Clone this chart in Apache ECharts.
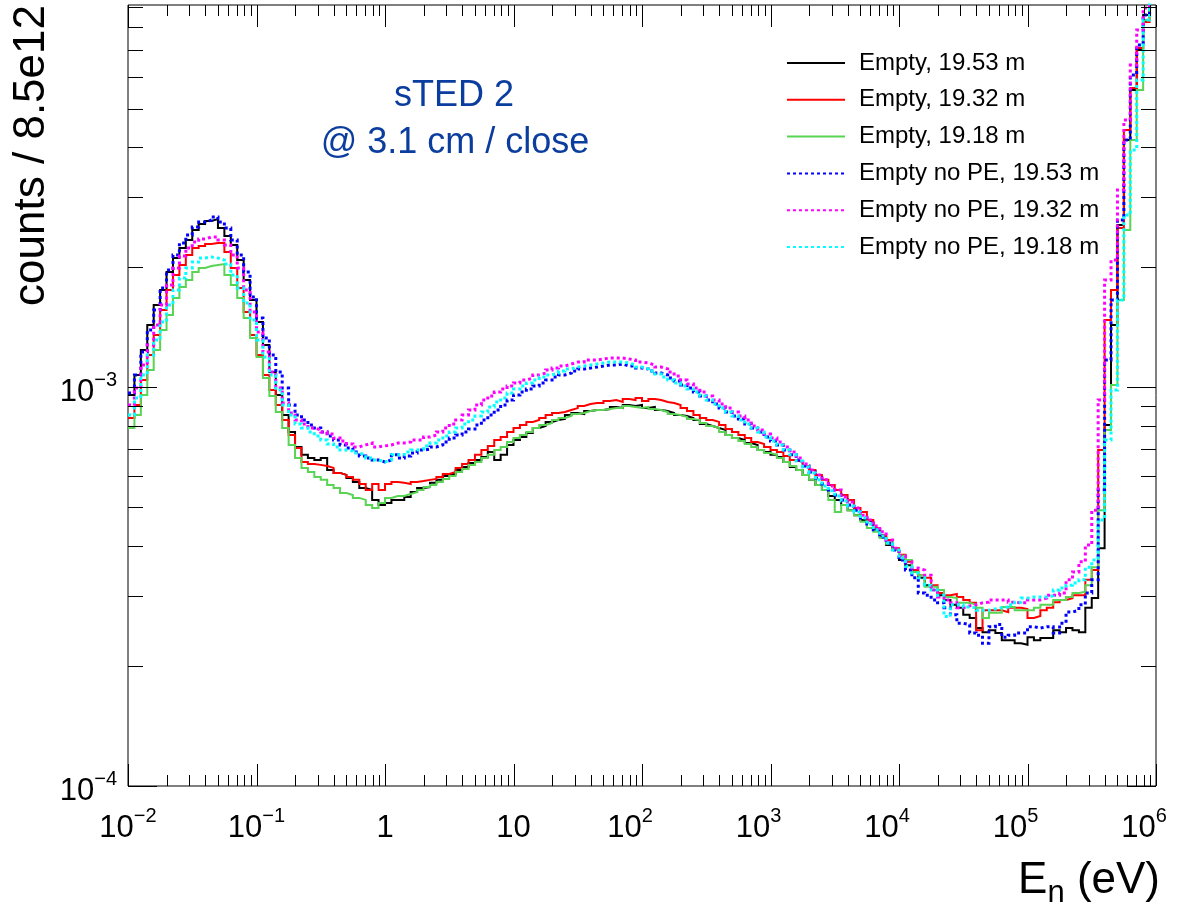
<!DOCTYPE html>
<html>
<head>
<meta charset="utf-8">
<script src="https://cdn.jsdelivr.net/npm/echarts@6/dist/echarts.min.js"></script>
<style>
html,body{margin:0;padding:0;background:#ffffff;}
#chart{width:1190px;height:916px;}
</style>
</head>
<body>
<div id="chart"></div>
<script>
// ---------------- data ----------------
// histogram values are given in units of 1e-3 (counts / 8.5e12)
const VALUE_UNIT = 1e-3;
// log-spaced binning: 20 bins per decade from 1e-2 eV to 1e6 eV
const E_MIN = 1e-2;
const BINS_PER_DECADE = 20;
const N_BINS = 160;

const X_MIN = 1e-2, X_MAX = 1e6;
const Y_MIN = 1e-4, Y_MAX = 9.1e-3;

const seriesNames = ['Empty, 19.53 m', 'Empty, 19.32 m', 'Empty, 19.18 m',
  'Empty no PE, 19.53 m', 'Empty no PE, 19.32 m', 'Empty no PE, 19.18 m'];

const empty1953 = [
0.957,1.074,1.240,1.433,1.609,1.754,1.946,2.110,2.235,2.341,
2.480,2.568,2.613,2.643,2.509,2.396,2.275,2.086,1.858,1.656,
1.458,1.277,1.092,0.957,0.852,0.773,0.709,0.677,0.665,0.657,
0.665,0.620,0.610,0.603,0.592,0.579,0.559,0.553,0.522,0.507,
0.513,0.522,0.522,0.531,0.546,0.559,0.562,0.576,0.586,0.599,
0.606,0.620,0.631,0.646,0.657,0.669,0.688,0.657,0.677,0.717,
0.738,0.751,0.768,0.791,0.800,0.819,0.828,0.833,0.852,0.862,
0.857,0.872,0.877,0.877,0.882,0.893,0.887,0.903,0.898,0.903,
0.887,0.893,0.877,0.872,0.862,0.852,0.847,0.838,0.828,0.809,
0.800,0.791,0.782,0.759,0.746,0.738,0.725,0.717,0.696,0.688,
0.677,0.669,0.650,0.631,0.620,0.603,0.586,0.569,0.553,0.534,
0.522,0.507,0.492,0.478,0.465,0.460,0.439,0.421,0.402,0.391,
0.369,0.358,0.344,0.333,0.319,0.310,0.301,0.293,0.285,0.280,
0.269,0.264,0.249,0.243,0.246,0.242,0.232,0.232,0.228,0.226,
0.236,0.232,0.235,0.235,0.246,0.243,0.249,0.246,0.243,0.280,
0.296,0.395,0.805,1.433,2.553,4.172,5.568,7.015,8.587,10.5];

const empty1932 = [
0.838,0.903,1.043,1.205,1.353,1.563,1.754,1.913,2.027,2.147,
2.235,2.261,2.288,2.301,2.301,2.185,1.992,1.774,1.545,1.353,
1.205,1.074,0.985,0.903,0.828,0.759,0.704,0.650,0.642,0.639,
0.635,0.628,0.610,0.603,0.596,0.586,0.572,0.553,0.572,0.553,
0.572,0.579,0.576,0.572,0.579,0.582,0.586,0.589,0.596,0.606,
0.613,0.628,0.642,0.657,0.677,0.696,0.713,0.738,0.751,0.773,
0.791,0.805,0.819,0.828,0.838,0.852,0.862,0.867,0.877,0.887,
0.898,0.908,0.913,0.913,0.924,0.929,0.919,0.935,0.929,0.940,
0.924,0.935,0.929,0.919,0.913,0.903,0.887,0.872,0.852,0.838,
0.828,0.819,0.805,0.786,0.773,0.759,0.746,0.729,0.721,0.709,
0.696,0.688,0.673,0.657,0.650,0.635,0.620,0.603,0.586,0.569,
0.553,0.537,0.522,0.498,0.487,0.465,0.444,0.426,0.414,0.395,
0.380,0.365,0.348,0.338,0.333,0.319,0.305,0.301,0.303,0.298,
0.293,0.288,0.246,0.276,0.276,0.276,0.273,0.280,0.280,0.278,
0.264,0.267,0.276,0.280,0.289,0.293,0.296,0.301,0.301,0.329,
0.348,0.696,1.475,1.754,2.509,4.419,5.632,7.096,8.245,10.5];

const empty1918 = [
0.791,0.852,0.957,1.105,1.240,1.392,1.519,1.675,1.784,1.858,
1.946,1.992,2.015,2.027,2.038,1.913,1.805,1.675,1.493,1.329,
1.191,1.055,0.951,0.867,0.791,0.717,0.665,0.628,0.613,0.596,
0.586,0.569,0.559,0.543,0.537,0.528,0.522,0.507,0.498,0.513,
0.528,0.534,0.534,0.540,0.546,0.553,0.562,0.569,0.579,0.589,
0.599,0.613,0.624,0.639,0.650,0.665,0.677,0.696,0.709,0.729,
0.746,0.759,0.773,0.791,0.805,0.814,0.828,0.838,0.847,0.857,
0.862,0.872,0.877,0.877,0.882,0.887,0.887,0.898,0.893,0.887,
0.893,0.882,0.877,0.867,0.857,0.852,0.843,0.833,0.828,0.814,
0.800,0.791,0.773,0.759,0.746,0.733,0.721,0.709,0.696,0.684,
0.677,0.665,0.650,0.635,0.620,0.603,0.586,0.569,0.553,0.522,
0.487,0.507,0.492,0.478,0.460,0.444,0.434,0.419,0.405,0.391,
0.378,0.369,0.344,0.338,0.316,0.316,0.310,0.298,0.296,0.288,
0.288,0.285,0.280,0.264,0.272,0.272,0.281,0.281,0.276,0.276,
0.276,0.280,0.285,0.285,0.293,0.293,0.298,0.305,0.307,0.319,
0.354,0.492,0.782,1.014,1.656,2.480,4.172,5.568,8.341,10.5];

const noPE1953 = [
0.968,1.074,1.226,1.392,1.563,1.774,1.969,2.147,2.301,2.410,
2.524,2.598,2.628,2.674,2.598,2.509,2.341,2.147,1.946,1.685,
1.493,1.329,1.205,1.092,0.996,0.903,0.852,0.828,0.805,0.791,
0.773,0.755,0.738,0.717,0.704,0.688,0.673,0.665,0.657,0.650,
0.657,0.677,0.665,0.673,0.684,0.696,0.700,0.709,0.717,0.729,
0.746,0.759,0.773,0.786,0.805,0.828,0.852,0.877,0.903,0.929,
0.957,0.973,0.990,1.008,1.025,1.043,1.061,1.074,1.086,1.099,
1.112,1.118,1.124,1.131,1.138,1.138,1.144,1.131,1.131,1.118,
1.112,1.099,1.086,1.074,1.055,1.037,1.014,0.996,0.973,0.951,
0.929,0.908,0.887,0.867,0.847,0.833,0.809,0.791,0.773,0.751,
0.733,0.717,0.696,0.677,0.657,0.635,0.613,0.592,0.572,0.553,
0.537,0.522,0.507,0.492,0.470,0.454,0.439,0.421,0.407,0.391,
0.369,0.348,0.333,0.305,0.301,0.293,0.288,0.280,0.269,0.256,
0.254,0.242,0.239,0.228,0.251,0.254,0.236,0.239,0.242,0.242,
0.251,0.249,0.251,0.251,0.242,0.256,0.273,0.276,0.285,0.305,
0.329,0.553,1.171,1.656,2.628,4.172,6.073,7.220,8.587,10.5];

const noPE1932 = [
0.903,0.996,1.138,1.277,1.433,1.609,1.805,1.992,2.135,2.235,
2.314,2.355,2.382,2.382,2.341,2.275,2.147,1.992,1.754,1.545,
1.376,1.226,1.092,0.996,0.913,0.862,0.828,0.809,0.791,0.782,
0.773,0.764,0.746,0.733,0.721,0.709,0.717,0.725,0.709,0.713,
0.717,0.725,0.725,0.729,0.738,0.738,0.751,0.759,0.773,0.791,
0.809,0.828,0.852,0.877,0.903,0.929,0.951,0.973,0.990,1.008,
1.025,1.043,1.055,1.074,1.086,1.105,1.118,1.131,1.144,1.157,
1.157,1.171,1.171,1.178,1.184,1.184,1.184,1.178,1.171,1.157,
1.151,1.138,1.124,1.112,1.092,1.068,1.043,1.019,0.996,0.973,
0.951,0.929,0.908,0.887,0.867,0.847,0.828,0.800,0.782,0.764,
0.746,0.729,0.709,0.688,0.665,0.642,0.620,0.603,0.586,0.566,
0.553,0.531,0.516,0.498,0.478,0.465,0.449,0.434,0.414,0.395,
0.378,0.365,0.352,0.348,0.338,0.310,0.298,0.293,0.288,0.280,
0.283,0.285,0.288,0.289,0.293,0.293,0.293,0.289,0.288,0.288,
0.293,0.293,0.296,0.301,0.301,0.305,0.329,0.344,0.365,0.402,
0.492,0.929,1.858,2.086,3.125,4.682,6.433,7.874,8.941,10.5];

const noPE1918 = [
0.852,0.940,1.074,1.205,1.314,1.458,1.609,1.754,1.880,1.992,
2.062,2.110,2.123,2.110,2.086,2.038,1.913,1.774,1.628,1.475,
1.314,1.191,1.074,0.985,0.903,0.852,0.809,0.791,0.773,0.755,
0.738,0.721,0.709,0.696,0.692,0.684,0.677,0.665,0.657,0.650,
0.657,0.677,0.677,0.688,0.696,0.700,0.713,0.725,0.738,0.755,
0.773,0.791,0.809,0.828,0.847,0.867,0.893,0.919,0.940,0.968,
0.990,1.008,1.025,1.043,1.061,1.074,1.086,1.099,1.112,1.124,
1.131,1.138,1.144,1.151,1.157,1.157,1.157,1.151,1.138,1.124,
1.112,1.099,1.080,1.061,1.043,1.025,1.008,0.990,0.973,0.951,
0.929,0.908,0.887,0.867,0.847,0.828,0.809,0.791,0.773,0.751,
0.733,0.717,0.696,0.677,0.653,0.631,0.610,0.586,0.566,0.550,
0.534,0.519,0.504,0.487,0.470,0.454,0.439,0.424,0.407,0.391,
0.373,0.356,0.342,0.333,0.319,0.310,0.301,0.266,0.285,0.285,
0.281,0.280,0.276,0.276,0.278,0.280,0.281,0.285,0.289,0.296,
0.298,0.298,0.298,0.300,0.310,0.314,0.319,0.323,0.329,0.354,
0.369,0.465,0.738,0.985,1.656,2.705,3.937,5.898,8.341,10.5];

// tick values
const xMajorTicks = [1e-2, 1e-1, 1, 10, 1e2, 1e3, 1e4, 1e5, 1e6];
const yMajorTicks = [1e-4, 1e-3];
const minorMantissas = [2, 3, 4, 5, 6, 7, 8, 9];

// ---------------- build ----------------
const edges = [];
for (let i = 0; i <= N_BINS; i++) edges.push(E_MIN * Math.pow(10, i / BINS_PER_DECADE));

function toSteps(vals) {
  const pts = vals.map((v, i) => [edges[i], v * VALUE_UNIT]);
  pts.push([edges[N_BINS], vals[N_BINS - 1] * VALUE_UNIT]);
  return pts;
}

const xMinorTicks = [], yMinorTicks = [];
xMajorTicks.slice(0, -1).forEach(d => minorMantissas.forEach(m => xMinorTicks.push(m * d)));
yMajorTicks.forEach(d => minorMantissas.forEach(m => { if (m * d < Y_MAX) yMinorTicks.push(m * d); }));

const tickData = [];
xMajorTicks.forEach(v => tickData.push([v, Y_MIN, 0, 1]));
xMinorTicks.forEach(v => tickData.push([v, Y_MIN, 0, 0]));
yMajorTicks.forEach(v => tickData.push([X_MIN, v, 1, 1]));
yMinorTicks.forEach(v => tickData.push([X_MIN, v, 1, 0]));

const FONT = 'Liberation Sans';
const TICK_STYLE = { stroke: '#000', lineWidth: 1 };

function renderTick(params, api) {
  const kind = api.value(2), major = api.value(3);
  if (kind === 0) {
    const v = api.value(0);
    const b = api.coord([v, Y_MIN]), t = api.coord([v, Y_MAX]);
    const x = Math.round(b[0]) + 0.5;
    const len = major ? 22 : 11;
    return { type: 'group', children: [
      { type: 'line', shape: { x1: x, y1: b[1], x2: x, y2: b[1] - len }, style: TICK_STYLE },
      { type: 'line', shape: { x1: x, y1: t[1], x2: x, y2: t[1] + len }, style: TICK_STYLE }
    ]};
  } else {
    const v = api.value(1);
    const l = api.coord([X_MIN, v]), r = api.coord([X_MAX, v]);
    const y = Math.round(l[1]) + 0.5;
    const len = major ? 29 : 15;
    return { type: 'group', children: [
      { type: 'line', shape: { x1: l[0], y1: y, x2: l[0] + len, y2: y }, style: TICK_STYLE },
      { type: 'line', shape: { x1: r[0], y1: y, x2: r[0] - len, y2: y }, style: TICK_STYLE }
    ]};
  }
}

function powLabel(v, plainSmall) {
  const l = Math.log10(v), e = Math.round(l);
  if (Math.abs(l - e) > 1e-6) return '';
  if (plainSmall && e === 0) return '1';
  if (plainSmall && e === 1) return '10';
  if (e < 0) return '10{s|\u2212' + (-e) + '}';
  // positive exponents: ROOT draws these slightly left of the tick
  return '10{s|' + e + '}' + (plainSmall ? '{p|\u00a0}' : '');
}

const supRich = {
  s: { fontSize: 20, lineHeight: 20, padding: [0, 0, 24, 0], fontFamily: FONT, color: '#000' },
  p: { width: 24, fontSize: 20, lineHeight: 20 }
};

const colors = ['#000000', '#ff0000', '#59d454', '#0000ff', '#ff00ff', '#00ffff'];
const allValues = [empty1953, empty1932, empty1918, noPE1953, noPE1932, noPE1918];

const lineSeries = allValues.map((vals, k) => ({
  name: seriesNames[k],
  type: 'line',
  step: 'end',
  symbol: 'none',
  clip: true,
  data: toSteps(vals),
  lineStyle: k < 3
    ? { color: colors[k], width: 2, type: 'solid', join: 'miter' }
    : { color: colors[k], width: 3, type: [3, 3], cap: 'butt', join: 'miter' },
  itemStyle: { color: colors[k] },
  z: 2 + k
}));

const chart = echarts.init(document.getElementById('chart'), null, { renderer: 'canvas' });
chart.setOption({
  animation: false,
  backgroundColor: '#ffffff',
  textStyle: { fontFamily: FONT },
  grid: { left: 128, top: 5, width: 1028, height: 781, outerBoundsMode: 'none', containLabel: false,
    show: true, borderColor: '#000', borderWidth: 1, backgroundColor: 'transparent' },
  xAxis: {
    type: 'log', logBase: 10, min: X_MIN, max: X_MAX,
    axisLine: { show: false }, axisTick: { show: false }, splitLine: { show: false }, minorTick: { show: false },
    axisLabel: {
      margin: 20, fontSize: 31, lineHeight: 44, color: '#000', fontFamily: FONT,
      rich: supRich, formatter: v => powLabel(v, true)
    }
  },
  yAxis: {
    type: 'log', logBase: 10, min: Y_MIN, max: Y_MAX,
    axisLine: { show: false }, axisTick: { show: false }, splitLine: { show: false }, minorTick: { show: false },
    axisLabel: {
      margin: 11, fontSize: 31, lineHeight: 44, padding: [10, 0, 0, 0], color: '#000', fontFamily: FONT,
      rich: supRich, formatter: v => powLabel(v, false)
    }
  },
  legend: {
    data: seriesNames,
    orient: 'vertical',
    left: 786, top: 50,
    padding: 0,
    itemWidth: 58, itemHeight: 14, itemGap: 10.8,
    itemStyle: { opacity: 0 },
    textStyle: { fontSize: 24, lineHeight: 26, color: '#000', fontFamily: FONT, padding: [0, 0, 0, 9] },
    selectedMode: false
  },
  graphic: [
    { type: 'text', x: 10, y: 5, rotation: Math.PI / 2,
      style: { text: 'counts / 8.5e12', fontSize: 44, fontFamily: FONT, fill: '#000', align: 'right', verticalAlign: 'top' } },
    { type: 'text', x: 1160, y: 881,
      style: { text: 'E{sub|n} (eV)', fontSize: 44, lineHeight: 44, fontFamily: FONT, fill: '#000', align: 'right', verticalAlign: 'middle',
        rich: { sub: { fontSize: 31, lineHeight: 31, padding: [25, 0, 0, 0], fontFamily: FONT, fill: '#000' } } } },
    { type: 'text', x: 454, y: 96,
      style: { text: 'sTED 2', fontSize: 36, fontFamily: FONT, fill: '#0b3d9e', align: 'center', verticalAlign: 'middle' } },
    { type: 'text', x: 455, y: 143,
      style: { text: '@ 3.1 cm / close', fontSize: 36, fontFamily: FONT, fill: '#0b3d9e', align: 'center', verticalAlign: 'middle' } }
  ],
  series: lineSeries.concat([{
    type: 'custom',
    name: 'ticks',
    renderItem: renderTick,
    data: tickData,
    encode: { x: 0, y: 1 },
    silent: true,
    z: 10
  }])
});
</script>
</body>
</html>
